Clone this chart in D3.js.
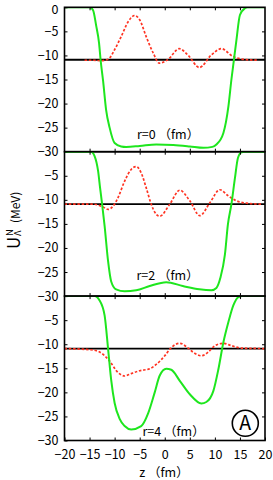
<!DOCTYPE html>
<html>
<head>
<meta charset="utf-8">
<script src="https://cdn.jsdelivr.net/npm/d3@7"></script>
<style>
html,body{margin:0;padding:0;background:#fff;}
svg{display:block;font-family:"Noto Sans CJK JP","Noto Sans",sans-serif;}
</style>
</head>
<body>
<svg id="chart" width="273" height="480"></svg>
<script>
// ---- data (z in fm, U in MeV) ----
const panelLabels = ["r=0 （fm）", "r=2 （fm）", "r=4 （fm）"];
const xTicks = [-20, -15, -10, -5, 0, 5, 10, 15, 20];
const yTicksTop = [0, -5, -10, -15, -20, -25, -30];
const yTicksOther = [-5, -10, -15, -20, -25, -30];
const refLevel = -10.9;

const greenR0 = [[-20,0],[-15,0],[-14.3,-0.6],[-13.7,-3.7],[-13.1,-7.5],[-12.8,-10.9],[-12.3,-15.3],[-11.7,-21.3],[-11,-25],[-10,-28.2],[-8.7,-28.9],[-7.7,-29],[-5,-28.8],[-1.7,-28.5],[1.7,-28.6],[5,-28.9],[7.7,-29.2],[9.5,-29],[10.3,-28.5],[11.7,-26.1],[12.7,-20.6],[13.3,-15],[13.8,-10.9],[14.3,-6.8],[15,-1.6],[16,-0.2],[16.5,0],[20,0]];
const redR0 = [[-16,-11],[-14.3,-11],[-12.7,-11.1],[-11.3,-10.8],[-10,-8.8],[-8.7,-6.1],[-7.3,-3.0],[-6,-1.7],[-5,-2.6],[-3.7,-6.1],[-2.3,-9.5],[-1.1,-11.6],[0.6,-10.9],[2.9,-8.6],[4.6,-9.9],[6.9,-12.5],[9.3,-9.9],[11.3,-8.6],[13.6,-10.2],[15.6,-10.8],[18.5,-11]];

const greenR2 = [[-20,0],[-14.7,0],[-14,-0.9],[-13.3,-4],[-12.9,-7.5],[-12.5,-10.9],[-12,-15.4],[-11.3,-22.8],[-10.7,-26.9],[-9.7,-28.6],[-8,-29],[-5.7,-28.8],[-3,-27.9],[0.3,-27.1],[3.6,-27.9],[6.9,-28.6],[9.3,-28.8],[10.3,-28.3],[11.1,-26.2],[12,-21.4],[12.6,-15.1],[13.3,-10.9],[14,-5.5],[14.6,-1.3],[15.3,-0.1],[16,0],[20,0]];
const redR2 = [[-20,-10.9],[-14.3,-10.9],[-12.3,-11.5],[-11.3,-12],[-10.3,-11.3],[-9.3,-9.5],[-8,-6.1],[-6.7,-3.7],[-5.7,-3.1],[-4.7,-4.4],[-3.7,-7.5],[-2.7,-10.9],[-1.7,-13],[-1,-13.4],[1,-10.9],[3,-8],[5,-10.2],[7,-13.3],[9,-10.6],[11,-7.9],[12.7,-9.2],[14.3,-10.2],[16.3,-10.7],[19.3,-10.9]];

const greenR4 = [[-20,0],[-14,0],[-13,-0.9],[-12,-4],[-11.3,-11],[-10.7,-17.3],[-10,-22.2],[-9,-25.5],[-8,-27],[-6.7,-27.7],[-4.7,-27],[-3.3,-24.3],[-2,-20],[-1,-16.5],[0.3,-15.1],[1.3,-15.3],[3,-17.6],[5,-20.4],[7.3,-22.3],[8.3,-22],[9.7,-19.7],[10.7,-15.2],[11.7,-9.6],[12.7,-5.4],[13.7,-1.9],[14.7,-0.2],[15.5,0],[20,0]];
const redR4 = [[-20,-10.9],[-14.3,-11.2],[-12.3,-12.1],[-11,-13.5],[-9.3,-15.9],[-8,-16.6],[-6.7,-16.1],[-5,-15.5],[-3,-15.1],[-1.7,-14.2],[0,-12.4],[1.3,-10.7],[3,-9.8],[4.3,-10.5],[5.7,-11.7],[7.3,-12.4],[8.7,-11.6],[10,-10.3],[11.7,-9.8],[13.3,-10.3],[15.3,-10.8],[20,-10.9]];

const greenSeries = [greenR0, greenR2, greenR4];
const redSeries = [redR0, redR2, redR4];

// ---- layout ----
const svg = d3.select("#chart");
const left = 64.5, right = 265, top0 = 7.3, ph = 144.4;
const x = d3.scaleLinear().domain([-20, 20]).range([left, right]);
const fmt = d => d3.format("d")(d);

const GREEN = "#1ee61e", RED = "#ff3322";

for (let i = 0; i < 3; i++) {
  const t = top0 + i * ph;
  const y = d3.scaleLinear().domain([0, -30]).range([t, t + ph]);
  const g = svg.append("g");

  const cid = "clip" + i;
  svg.append("clipPath").attr("id", cid).append("rect")
    .attr("x", left).attr("y", t).attr("width", right - left).attr("height", ph);

  const line = d3.line().x(d => x(d[0])).y(d => y(d[1])).curve(d3.curveMonotoneX);

  const plot = g.append("g").attr("clip-path", `url(#${cid})`);
  plot.append("line")
    .attr("x1", x(-20)).attr("x2", x(20))
    .attr("y1", y(refLevel)).attr("y2", y(refLevel))
    .attr("stroke", "#000").attr("stroke-width", 1.8);

  plot.append("path").datum(redSeries[i]).attr("d", line)
    .attr("fill", "none").attr("stroke", RED).attr("stroke-width", 1.7)
    .attr("stroke-dasharray", "2.5,1.8");
  plot.append("path").datum(greenSeries[i]).attr("d", line)
    .attr("fill", "none").attr("stroke", GREEN).attr("stroke-width", 2);

  const yTv = i === 0 ? yTicksTop : yTicksOther;
  const ax = (a) => a.call(s => s.select(".domain").remove());
  g.append("g").attr("transform", `translate(${left},0)`)
    .call(d3.axisLeft(y).tickValues(yTv).tickSize(-3).tickPadding(6).tickFormat(fmt))
    .call(ax)
    .call(s => s.selectAll("text").attr("font-size", 12.5).attr("fill", "#000")
      .attr("font-family", '"Noto Sans CJK JP", sans-serif')
      .attr("dy", d => d === 0 ? "0.5em" : "0.32em"));
  g.append("g").attr("transform", `translate(${right},0)`)
    .call(d3.axisRight(y).tickValues([-5, -10, -15, -20, -25]).tickSize(-3).tickFormat(""))
    .call(ax);
  g.append("g").attr("transform", `translate(0,${t})`)
    .call(d3.axisTop(x).tickValues(xTicks.slice(1, -1)).tickSize(-3).tickFormat(""))
    .call(ax);
  const bx = g.append("g").attr("transform", `translate(0,${t + ph})`);
  if (i === 2) {
    bx.call(d3.axisBottom(x).tickValues(xTicks).tickSize(-3).tickPadding(10).tickFormat(fmt))
      .call(ax)
      .call(s => s.selectAll("text").attr("font-size", 12.5).attr("fill", "#000")
        .attr("font-family", '"Noto Sans CJK JP", sans-serif'));
  } else {
    bx.call(d3.axisBottom(x).tickValues(xTicks.slice(1, -1)).tickSize(-3).tickFormat(""))
      .call(ax);
  }
  g.selectAll(".tick line").attr("stroke", "#000").attr("stroke-width", 1);

  g.append("rect").attr("x", left).attr("y", t).attr("width", right - left).attr("height", ph)
    .attr("fill", "none").attr("stroke", "#000").attr("stroke-width", 1.6);

  const lx = [137, 136.5, 142.5][i];
  const ly = [139, 280, 436][i];
  g.append("text").attr("x", lx).attr("y", ly).attr("font-size", 12.5)
    .attr("fill", "#000").text(panelLabels[i]);
}

svg.append("text").attr("x", 164).attr("y", 477).attr("text-anchor", "middle")
  .attr("font-size", 12.5).attr("fill", "#000").text("z （fm）");

const yt = svg.append("g").attr("transform", "translate(20,249) rotate(-90)");
yt.append("text").attr("x", 0).attr("y", 0).attr("font-size", 17).attr("fill", "#000").text("U");
yt.append("text").attr("x", 13).attr("y", 1).attr("font-size", 9.5).attr("fill", "#000").text("Λ");
yt.append("text").attr("x", 13).attr("y", -7.5).attr("font-size", 9.5).attr("fill", "#000").text("N");
yt.append("text").attr("x", 26).attr("y", 0).attr("font-size", 12).attr("fill", "#000").text("(MeV)");

svg.append("circle").attr("cx", 245.3).attr("cy", 423.3).attr("r", 13)
  .attr("fill", "none").attr("stroke", "#000").attr("stroke-width", 1.6);
svg.append("text").attr("x", 245.3).attr("y", 430.3).attr("text-anchor", "middle")
  .attr("font-size", 19.5).attr("fill", "#000").text("A");
</script>
</body>
</html>
